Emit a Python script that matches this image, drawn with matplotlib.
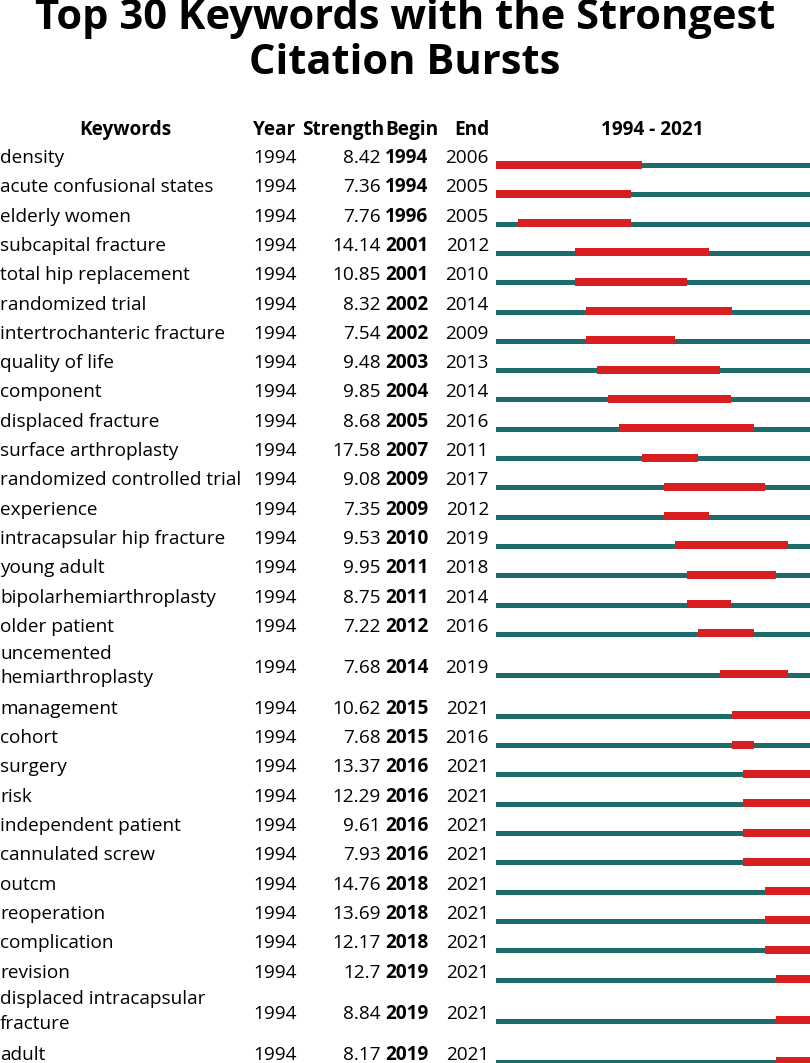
import matplotlib
matplotlib.use("Agg")
import matplotlib.pyplot as plt

# ----------------------
# DATA
# ----------------------
keywords = [
    "density", "acute confusional states", "elderly women", "subcapital fracture",
    "total hip replacement", "randomized trial", "intertrochanteric fracture",
    "quality of life", "component", "displaced fracture", "surface arthroplasty",
    "randomized controlled trial", "experience", "intracapsular hip fracture",
    "young adult", "bipolarhemiarthroplasty", "older patient",
    "uncemented\nhemiarthroplasty", "management", "cohort", "surgery", "risk",
    "independent patient", "cannulated screw", "outcm", "reoperation",
    "complication", "revision", "displaced intracapsular\nfracture", "adult",
]
years = [1994] * 30
strengths = [8.42, 7.36, 7.76, 14.14, 10.85, 8.32, 7.54, 9.48, 9.85, 8.68,
             17.58, 9.08, 7.35, 9.53, 9.95, 8.75, 7.22, 7.68, 10.62, 7.68,
             13.37, 12.29, 9.61, 7.93, 14.76, 13.69, 12.17, 12.7, 8.84, 8.17]
begins = [1994, 1994, 1996, 2001, 2001, 2002, 2002, 2003, 2004, 2005,
          2007, 2009, 2009, 2010, 2011, 2011, 2012, 2014, 2015, 2015,
          2016, 2016, 2016, 2016, 2018, 2018, 2018, 2019, 2019, 2019]
ends = [2006, 2005, 2005, 2012, 2010, 2014, 2009, 2013, 2014, 2016,
        2011, 2017, 2012, 2019, 2018, 2014, 2016, 2019, 2021, 2016,
        2021, 2021, 2021, 2021, 2021, 2021, 2021, 2021, 2021, 2021]
start_year, end_year = 1994, 2021

# ----------------------
# STYLE / LAYOUT
# ----------------------
W, H = 810, 1063
RED = "#d81e1e"
TEAL = "#1e6b6b"
FONT = "Open Sans"
FS = 13.7
ROW_H = 29.3
TALL_H = 52.7
FIRST_TOP = 142.4

fig = plt.figure(figsize=(W / 100, H / 100), dpi=100)
ax = fig.add_axes([0, 0, 1, 1])
ax.set_xlim(0, W)
ax.set_ylim(H, 0)
ax.axis("off")

# title
ax.text(W / 2, 41, "Top 30 Keywords with the Strongest\nCitation Bursts",
        ha="center", va="center", fontsize=30, fontweight="bold",
        family=FONT, linespacing=1.12)

# headers
hy = 135
ax.text(125, hy, "Keywords", ha="center", va="baseline", fontsize=FS,
        fontweight="bold", family=FONT)
ax.text(253, hy, "Year", ha="left", va="baseline", fontsize=FS,
        fontweight="bold", family=FONT)
ax.text(343, hy, "Strength", ha="center", va="baseline", fontsize=FS,
        fontweight="bold", family=FONT)
ax.text(412, hy, "Begin", ha="center", va="baseline", fontsize=FS,
        fontweight="bold", family=FONT)
ax.text(489, hy, "End", ha="right", va="baseline", fontsize=FS,
        fontweight="bold", family=FONT)
ax.text(652, hy, f"{start_year} - {end_year}", ha="center", va="baseline",
        fontsize=FS, fontweight="bold", family=FONT)

# row centres
row_y = []
top = FIRST_TOP
for k in keywords:
    h = TALL_H if "\n" in k else ROW_H
    row_y.append(top + h / 2)
    top += h

for y, k, yr, s, b, e in zip(row_y, keywords, years, strengths, begins, ends):
    base = y + 6
    if "\n" in k:
        ax.text(0, y - 1, k, ha="left", va="center", fontsize=FS, family=FONT,
                linespacing=1.45)
    else:
        ax.text(0, base, k, ha="left", va="baseline", fontsize=FS, family=FONT)
    ax.text(253, base, str(yr), ha="left", va="baseline", fontsize=FS, family=FONT)
    ax.text(381, base, f"{s:g}", ha="right", va="baseline", fontsize=FS, family=FONT)
    ax.text(385, base, str(b), ha="left", va="baseline", fontsize=FS,
            fontweight="bold", family=FONT)
    ax.text(489, base, str(e), ha="right", va="baseline", fontsize=FS, family=FONT)

# ----------------------
# TIMELINE
# ----------------------
tl = fig.add_axes([496 / W, 0, (W - 496) / W, 1])
tl.set_xlim(start_year, end_year + 1)
tl.set_ylim(H, 0)
tl.axis("off")

tl.barh([y + 8.5 for y in row_y], [end_year + 1 - start_year] * len(row_y),
        left=start_year, height=5, color=TEAL, edgecolor="none")
tl.barh([y + 7.5 for y in row_y], [e + 1 - b for b, e in zip(begins, ends)],
        left=begins, height=8, color=RED, edgecolor="none")

fig.savefig("out.png", dpi=100)
